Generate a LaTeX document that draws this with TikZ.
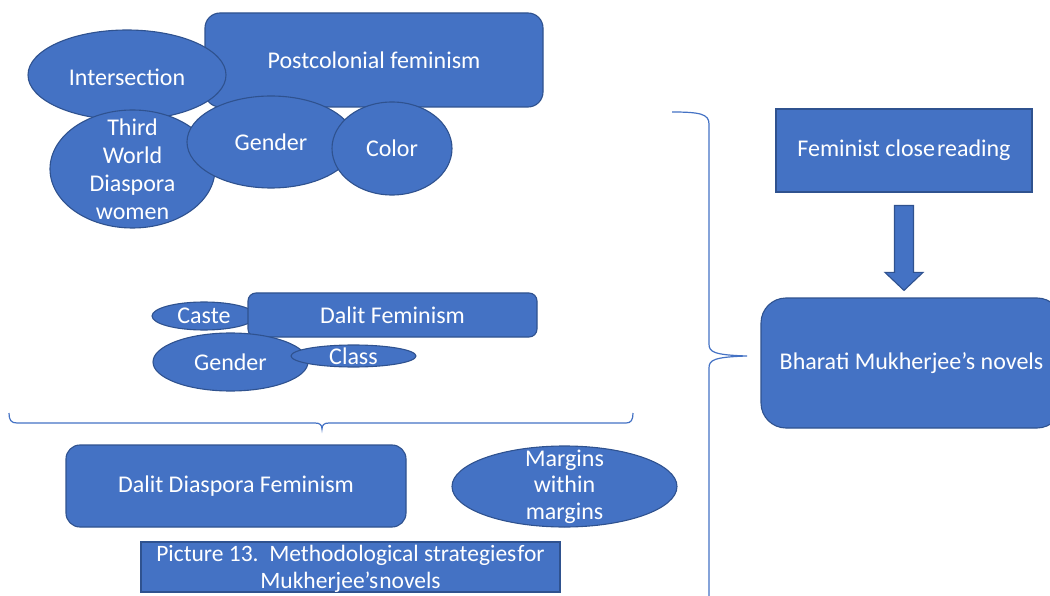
\documentclass[tikz,border=0pt]{standalone}
\usepackage{fontspec}
\setmainfont{Carlito}
\usetikzlibrary{shapes.geometric,calc}
\definecolor{boxblue}{HTML}{4472C4}
\definecolor{edgeblue}{HTML}{2F528F}
\begin{document}
\begin{tikzpicture}[x=1pt,y=-1pt,
  every node/.style={font=\fontsize{24}{28}\selectfont, text=white},
  box/.style={draw=edgeblue, fill=boxblue, line width=1.1pt, inner sep=0pt, align=center},
  rbox/.style={box, rounded corners=#1},
  oval/.style={ellipse, draw=edgeblue, fill=boxblue, line width=1.1pt, inner sep=0pt},
  txt/.style={align=center, inner sep=0pt},
  brace/.style={draw=boxblue, line width=1.2pt}]
\useasboundingbox (0,0) rectangle (1050,596);
\clip (0,0) rectangle (1050,596);

% postcolonial feminism cluster
\node[rbox=15pt, minimum width=338pt, minimum height=94pt] (pf) at (374,60) {Postcolonial feminism};
\node[oval, minimum width=198pt, minimum height=90pt, label={[txt, yshift=-2pt]center:Intersection}] (inter) at (127,75) {};
\node[oval, minimum width=165pt, minimum height=118pt, label={[txt]center:Third\\World\\Diaspora\\women}] (tw) at (132.5,169) {};
\node[oval, minimum width=168pt, minimum height=92pt, label={[txt]center:Gender}] (gen1) at (271,142) {};
\node[oval, minimum width=120pt, minimum height=93pt, label={[txt]center:Color}] (col) at (392,148.5) {};

% dalit feminism cluster
\node[oval, minimum width=104pt, minimum height=28pt, label={[txt]center:Caste}] (caste) at (204,316) {};
\node[rbox=8pt, minimum width=289pt, minimum height=44pt] (df) at (392.5,315) {Dalit Feminism};
\node[oval, minimum width=155pt, minimum height=58pt, label={[txt]center:Gender}] (gen2) at (230.5,362) {};
\node[oval, minimum width=125pt, minimum height=22pt, label={[txt]center:Class}] (cls) at (353.5,356) {};

% right column
\node[box, minimum width=256pt, minimum height=83pt] (fcr) at (904,150.5) {Feminist close\kern2pt reading};
\node[rbox=25pt, minimum width=301pt, minimum height=130pt] (bmn) at (911.5,363) {Bharati Mukherjee’s novels};
\coordinate (ar-top) at ($(fcr.south)+(0,13)$);
\coordinate (ar-tip) at ($(fcr.south |- bmn.north)+(0,-7)$);
\draw[box] ($(ar-top)+(-9.5,0)$) -- ($(ar-top)+(9.5,0)$) -- ($(ar-tip)+(9.5,-18)$)
  -- ($(ar-tip)+(19,-18)$) -- (ar-tip) -- ($(ar-tip)+(-19,-18)$)
  -- ($(ar-tip)+(-9.5,-18)$) -- cycle;

% braces
\draw[brace] (9,413) .. controls (9,420) and (11,423) .. (17,423) -- (315,423)
  .. controls (320,423) and (322,425) .. (322,429)
  .. controls (322,425) and (324,423) .. (329,423) -- (626,423)
  .. controls (631,423) and (633,420) .. (633,413);
\draw[brace] (672,112) .. controls (700,112) and (709,114) .. (709,124) -- (709,344)
  .. controls (709,352) and (714,355) .. (747,356)
  .. controls (714,357) and (709,360) .. (709,368) -- (709,600);

% bottom row
\node[rbox=14pt, minimum width=340pt, minimum height=82pt] (ddf) at (236,486) {Dalit Diaspora Feminism};
\node[oval, minimum width=225pt, minimum height=81pt, label={[txt, font=\fontsize{24}{26.5}\selectfont]center:Margins\\within\\margins}] (mwm) at (564.5,486.5) {};
\node[box, minimum width=419pt, minimum height=50pt, text height=0pt, text depth=0pt] (cap) at (350.5,567) {};
\node[txt, font=\fontsize{23.5}{27}\selectfont, yshift=-1.5pt] (captxt) at (cap.center) {Picture 13.\ \ Methodological strategies\kern1pt for\\Mukherjee’s\kern1pt novels};
\end{tikzpicture}
\end{document}
